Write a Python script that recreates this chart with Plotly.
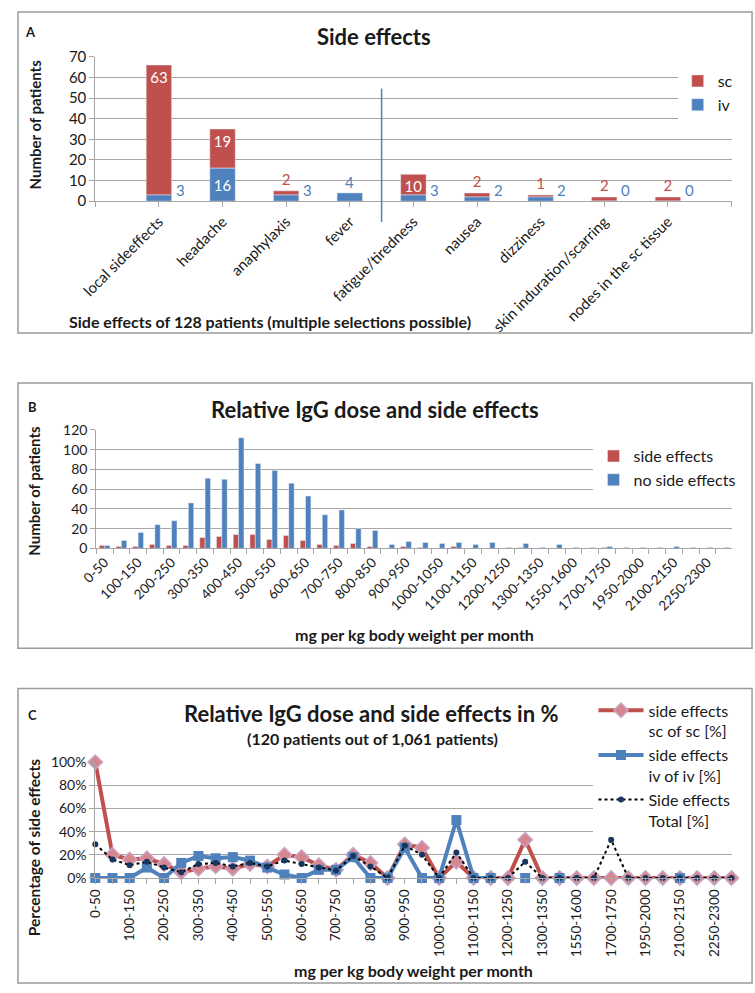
import plotly.graph_objects as go

W, H = 755, 993
RED = "#C0504D"
BLUE = "#4F81BD"
GRID = "#A6A6A6"
FONT = "Lato"
TXT = "#1a1a1a"

# ---------------- Panel A data ----------------
a_categories = ["local sideeffects", "headache", "anaphylaxis", "fever", "fatigue/tiredness",
                "nausea", "dizziness", "skin induration/scarring", "nodes in the sc tissue"]
a_sc = [63, 19, 2, 0, 10, 2, 1, 2, 2]
a_iv = [3, 16, 3, 4, 3, 2, 2, 0, 0]

# ---------------- Panel B / C data ----------------
dose_bins = ["0-50", "50-100", "100-150", "150-200", "200-250", "250-300", "300-350", "350-400",
             "400-450", "450-500", "500-550", "550-600", "600-650", "650-700", "700-750", "750-800",
             "800-850", "850-900", "900-950", "950-1000", "1000-1050", "1050-1100", "1100-1150",
             "1150-1200", "1200-1250", "1250-1300", "1300-1350", "1400-1450", "1550-1600",
             "1650-1700", "1700-1750", "1800-1850", "1950-2000", "2000-2050", "2100-2150",
             "2200-2250", "2250-2300", "2300-2350"]
b_side = [3, 2, 2, 4, 3, 3, 11, 12, 14, 14, 9, 13, 8, 4, 3, 5, 2,
          0, 2, 1, 0, 2, 0, 0, 0, 1, 0, 0, 0, 0, 1, 0, 0, 0, 0, 0, 0, 0]
b_noside = [3, 8, 16, 24, 28, 46, 71, 70, 112, 86, 79, 66, 53, 34, 39, 20, 18,
            4, 7, 6, 5, 6, 4, 6, 1, 5, 1, 4, 1, 1, 2, 1, 1, 1, 2, 1, 1, 1]

c_sc_pct = [100, 20, 16, 17, 12, 5, 8, 10, 8, 12, 10, 20, 18, 11, 7, 20, 13,
            0, 29, 26, 0, 14, 0, 0, 0, 33, 0, 0, 0, 0, 0, 0, 0, 0, 0, 0, 0, 0]
c_iv_pct = [0, 0, 0, 9, 0, 13, 19, 17, 18, 15, 9, 3, 0, 7, 7, 18, 0,
            0, 26, 0, 0, 50, 0, 0, None, 0, None, 0, None, None, None, None, None, None, 0,
            None, None, None]
c_total_pct = [29, 16, 11, 14, 9, 5, 12, 13, 10, 13, 10, 15, 12, 9, 6.5, 19, 10,
               0, 28, 20, 0, 22, 0, 0, 0, 14, 0, 0, 0, 0, 33, 0, 0, 0, 0, 0, 0, 0]


def fx(px):
    return px / W


def fy(py):
    return 1 - py / H


fig = go.Figure()

# ---------------- Panel A ----------------
a_x = list(range(1, len(a_categories) + 1))
fig.add_trace(go.Bar(
    x=a_x, y=a_sc, base=a_iv, name="sc", marker_color=RED, width=0.4,
    xaxis="x", yaxis="y", legend="legend",
    text=[str(v) if v > 0 else "" for v in a_sc],
    textposition=["inside" if v >= 10 else "outside" for v in a_sc],
    insidetextanchor="end", constraintext="none", cliponaxis=False, textangle=0,
    insidetextfont=dict(color="white", size=15, family=FONT),
    outsidetextfont=dict(color=RED, size=15, family=FONT),
))
fig.add_trace(go.Bar(
    x=a_x, y=a_iv, name="iv", marker_color=BLUE, width=0.4,
    xaxis="x", yaxis="y", legend="legend",
    text=[str(v) if v >= 10 else "" for v in a_iv],
    textposition="inside", insidetextanchor="middle", constraintext="none", textangle=0,
    insidetextfont=dict(color="white", size=15, family=FONT),
))

annotations = []
for xi, iv, sc in zip(a_x, a_iv, a_sc):
    if iv >= 10:
        continue
    if sc == 0:
        annotations.append(dict(x=xi, y=iv, xref="x", yref="y", text=str(iv), showarrow=False,
                                yanchor="bottom", font=dict(color=BLUE, size=15, family=FONT)))
    else:
        annotations.append(dict(x=xi + 0.2, y=0, xref="x", yref="y", text=str(iv), showarrow=False,
                                xanchor="left", yanchor="bottom", xshift=2,
                                font=dict(color=BLUE, size=15, family=FONT)))

# ---------------- Panel B ----------------
fig.add_trace(go.Bar(
    x=dose_bins, y=b_side, name="side effects", marker_color=RED, width=0.32, offset=-0.32,
    xaxis="x2", yaxis="y2", legend="legend2",
))
fig.add_trace(go.Bar(
    x=dose_bins, y=b_noside, name="no side effects", marker_color=BLUE, width=0.32, offset=0,
    xaxis="x2", yaxis="y2", legend="legend2",
))

# ---------------- Panel C ----------------
fig.add_trace(go.Scatter(
    x=dose_bins, y=[v / 100 for v in c_sc_pct], name="side effects<br>sc of sc [%]",
    mode="lines+markers", line=dict(color=RED, width=4),
    marker=dict(symbol="diamond", size=11, color="#D8868E", line=dict(color="#C7A3C6", width=1.5)),
    xaxis="x3", yaxis="y3", legend="legend3", cliponaxis=False,
))
fig.add_trace(go.Scatter(
    x=dose_bins, y=[None if v is None else v / 100 for v in c_iv_pct],
    name="side effects<br>iv of iv [%]",
    mode="lines+markers", line=dict(color=BLUE, width=4),
    marker=dict(symbol="square", size=10, color=BLUE),
    xaxis="x3", yaxis="y3", legend="legend3", cliponaxis=False,
))
fig.add_trace(go.Scatter(
    x=dose_bins, y=[v / 100 for v in c_total_pct], name="Side effects<br>Total [%]",
    mode="lines+markers", line=dict(color="black", width=2, dash="dot"),
    marker=dict(symbol="circle", size=6, color="#17375E"),
    xaxis="x3", yaxis="y3", legend="legend3", cliponaxis=False,
))

# ---------------- text annotations ----------------
def txt(x, y, s, size, bold=True, angle=0, xanchor="center", color=TXT):
    annotations.append(dict(x=fx(x), y=fy(y), xref="paper", yref="paper", text=(f"<b>{s}</b>" if bold else s),
                            showarrow=False, textangle=angle, xanchor=xanchor, yanchor="middle",
                            font=dict(size=size, family=FONT, color=color)))


txt(15, 22, "A", 13)
txt(366, 27, "Side effects", 22)
txt(19, 117, "Number of patients", 15, angle=-90)
txt(259, 317, "Side effects of 128 patients (multiple selections possible)", 16)

txt(17, 404, "B", 13)
txt(367, 407, "Relative IgG dose and side effects", 22)
txt(19, 490, "Number of patients", 15, angle=-90)
txt(407, 636, "mg per kg body weight per month", 16)

txt(17, 718, "C", 13)
txt(363, 716, "Relative IgG dose and side effects in %", 22)
txt(364, 742, "(120 patients out of 1,061 patients)", 16)
txt(18, 853, "Percentage of side effects", 15.5, angle=-90)
txt(406, 978, "mg per kg body weight per month", 16)

# ---------------- shapes ----------------
shapes = []
for (x0, y0, x1, y1) in [(2, 2, 752, 329), (2, 380, 752, 650), (2, 691, 752, 991)]:
    shapes.append(dict(type="rect", xref="paper", yref="paper", x0=fx(x0), x1=fx(x1), y0=fy(y1), y1=fy(y0),
                       line=dict(color="#9a9a9a", width=1.5), fillcolor="rgba(0,0,0,0)", layer="below"))
sep_x = a_x[3] + 0.5
shapes.append(dict(type="line", xref="x", yref="paper", x0=sep_x, x1=sep_x, y0=fy(216), y1=fy(80),
                   line=dict(color=BLUE, width=1.5)))

tickfont = lambda s: dict(size=s, family=FONT, color=TXT)
axis_common = dict(showline=True, linecolor=GRID, linewidth=1, ticks="outside", tickcolor=GRID,
                   ticklen=5, zeroline=False)

fig.update_layout(
    width=W, height=H, margin=dict(l=0, r=0, t=0, b=0),
    paper_bgcolor="white", plot_bgcolor="white",
    barmode="overlay", font=dict(family=FONT, color=TXT),
    annotations=annotations, shapes=shapes,
    xaxis=dict(domain=[fx(81), fx(731)], anchor="y", range=[0, len(a_categories) + 1],
               tickmode="array", tickvals=list(range(0, len(a_categories) + 2)),
               ticktext=[""] + a_categories + [""], tickangle=-45, tickfont=tickfont(15),
               showgrid=False, **axis_common),
    yaxis=dict(domain=[fy(194.7), fy(47.7)], anchor="x", range=[0, 70], dtick=10,
               showgrid=True, gridcolor=GRID, gridwidth=1, tickfont=tickfont(15), **axis_common),
    xaxis2=dict(domain=[fx(82), fx(732)], anchor="y2", type="category", range=[-0.5, len(dose_bins) - 0.5],
                tickmode="array", tickvals=dose_bins,
                ticktext=[b if i % 2 == 0 else "" for i, b in enumerate(dose_bins)],
                tickson="boundaries", tickangle=-45, tickfont=tickfont(13.5), showgrid=False, **axis_common),
    yaxis2=dict(domain=[fy(548.3), fy(427.7)], anchor="x2", range=[0, 120], dtick=20,
                showgrid=True, gridcolor=GRID, gridwidth=1, tickfont=tickfont(14), **axis_common),
    xaxis3=dict(domain=[fx(81), fx(731)], anchor="y3", type="category", range=[0, len(dose_bins) - 1],
                tickmode="array", tickvals=dose_bins,
                ticktext=[b if i % 2 == 0 else "" for i, b in enumerate(dose_bins)],
                tickangle=-90, tickfont=tickfont(13.5), showgrid=False, **axis_common),
    yaxis3=dict(domain=[fy(884), fy(766)], anchor="x3", range=[0, 1], dtick=0.2, tickformat=".0%",
                showgrid=True, gridcolor=GRID, gridwidth=1, tickfont=tickfont(14), **axis_common),
    legend=dict(x=fx(676), y=fy(55), xanchor="left", yanchor="top", bgcolor="white",
                font=dict(size=16, family=FONT, color=TXT), tracegroupgap=0, itemwidth=30),
    legend2=dict(x=fx(590), y=fy(437), xanchor="left", yanchor="top", bgcolor="white",
                 font=dict(size=16, family=FONT, color=TXT), itemwidth=30),
    legend3=dict(x=fx(590), y=fy(696), xanchor="left", yanchor="top", bgcolor="white",
                 font=dict(size=16, family=FONT, color=TXT), itemwidth=45, valign="top"),
    showlegend=True,
)

fig.write_html("out.html", config={"displayModeBar": False},
               post_script="document.body.style.margin='0';document.body.style.overflow='hidden';")
